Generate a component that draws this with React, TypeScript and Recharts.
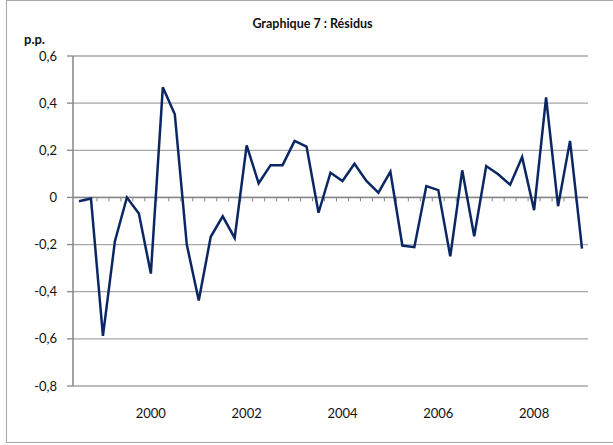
import React from "react";
import {
  LineChart,
  Line,
  XAxis,
  YAxis,
  CartesianGrid,
  ReferenceLine,
} from "recharts";

// trimestres, de 1998 T3 à 2009 T1
const quarters = [
  "1998T3", "1998T4",
  "1999T1", "1999T2", "1999T3", "1999T4",
  "2000T1", "2000T2", "2000T3", "2000T4",
  "2001T1", "2001T2", "2001T3", "2001T4",
  "2002T1", "2002T2", "2002T3", "2002T4",
  "2003T1", "2003T2", "2003T3", "2003T4",
  "2004T1", "2004T2", "2004T3", "2004T4",
  "2005T1", "2005T2", "2005T3", "2005T4",
  "2006T1", "2006T2", "2006T3", "2006T4",
  "2007T1", "2007T2", "2007T3", "2007T4",
  "2008T1", "2008T2", "2008T3", "2008T4",
  "2009T1",
];

const residus = [
  -0.016, -0.005,
  -0.587, -0.186, 0.0, -0.068,
  -0.323, 0.467, 0.353, -0.2,
  -0.437, -0.167, -0.08, -0.172,
  0.221, 0.06, 0.137, 0.137,
  0.24, 0.216, -0.065, 0.105,
  0.07, 0.143, 0.07, 0.02,
  0.109, -0.204, -0.211, 0.048,
  0.031, -0.25, 0.115, -0.165,
  0.133, 0.098, 0.054, 0.171,
  -0.054, 0.424, -0.037, 0.24,
  -0.217,
];

const yTicks = [-0.8, -0.6, -0.4, -0.2, 0, 0.2, 0.4, 0.6];
const yearLabels = ["2000", "2002", "2004", "2006", "2008"];

const data = residus.map((v, i) => ({ i, q: quarters[i], v }));
const yearTicks = yearLabels.map((y) => quarters.indexOf(y + "T1"));
const boundaries = quarters.slice(1).map((_, i) => i + 0.5);

const font = "Lato, 'Open Sans', sans-serif";

const fmtY = (v: number) =>
  v === 0 ? "0" : v.toFixed(1).replace(".", ",");

export default function App() {
  return (
    <div
      style={{
        position: "absolute",
        left: 0,
        top: 0,
        width: 613,
        height: 445,
        background: "#fff",
        fontFamily: font,
      }}
    >
      <div
        style={{
          position: "absolute",
          left: 6,
          top: 0,
          width: 620,
          height: 443,
          border: "1.5px solid #a6a6a6",
          boxSizing: "border-box",
        }}
      />
      <div
        style={{
          position: "absolute",
          left: 0,
          width: 613,
          top: 16,
          textAlign: "center",
          paddingLeft: 12,
          boxSizing: "border-box",
          fontWeight: 700,
          fontSize: 12.5,
          color: "#111",
        }}
      >
        Graphique 7 : Résidus
      </div>
      <div
        style={{
          position: "absolute",
          left: 24,
          top: 31,
          fontWeight: 700,
          fontSize: 13,
          color: "#111",
        }}
      >
        p.p.
      </div>
      <LineChart
        width={613}
        height={445}
        data={data}
        margin={{ top: 56, right: 25, left: 0, bottom: 0 }}
        style={{ position: "absolute", left: 0, top: 0 }}
      >
        <CartesianGrid
          vertical={false}
          stroke="#a6a6a6"
          strokeWidth={1.3}
        />
        <XAxis
          dataKey="i"
          type="number"
          domain={[-0.5, quarters.length - 0.5]}
          ticks={yearTicks}
          tickFormatter={(i: number) => quarters[i].slice(0, 4)}
          axisLine={false}
          tickLine={false}
          tickSize={0}
          tickMargin={23}
          height={59}
          interval={0}
          tick={{ fill: "#111", fontSize: 13, fontFamily: font }}
        />
        <YAxis
          domain={[-0.8, 0.6]}
          ticks={yTicks}
          width={73}
          interval={0}
          tickFormatter={fmtY}
          axisLine={{ stroke: "#868686", strokeWidth: 1.5 }}
          tickLine={{ stroke: "#868686", strokeWidth: 1.3 }}
          tickSize={6}
          tickMargin={10}
          tick={{ fill: "#111", fontSize: 13, fontFamily: font }}
        />
        <ReferenceLine y={0} stroke="#868686" strokeWidth={1.5} />
        {boundaries.map((b) => (
          <ReferenceLine
            key={b}
            segment={[
              { x: b, y: 0 },
              { x: b, y: -0.017 },
            ]}
            stroke="#868686"
            strokeWidth={1}
          />
        ))}
        <Line
          dataKey="v"
          type="linear"
          stroke="#0b2763"
          strokeWidth={2.5}
          dot={false}
          isAnimationActive={false}
        />
      </LineChart>
    </div>
  );
}
